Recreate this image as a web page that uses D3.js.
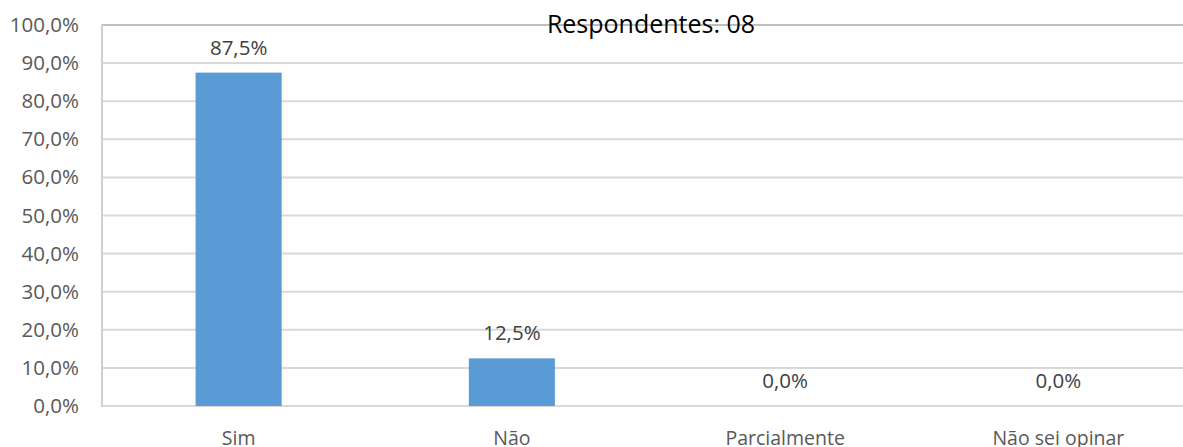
<head>
	<script src="https://d3js.org/d3.v7.min.js"></script>
	<style type="text/css">
		body { margin: 0; background: #fff; }
		text { font-family: "Open Sans", sans-serif; }
	</style>
</head>
<body>
	<script type="text/javascript">
		const categories = ['Sim', 'Não', 'Parcialmente', 'Não sei opinar']
		const values = [87.5, 12.5, 0, 0]
		const yTicks = [0, 10, 20, 30, 40, 50, 60, 70, 80, 90, 100]
		const title = 'Respondentes: 08'

		const W = 1183, H = 447
		const margin = {top:25, right:-12, bottom:41, left:102}
		const width = W - margin.left - margin.right,
			  height = H - margin.top - margin.bottom

		const fmt = v => v.toFixed(1).replace('.', ',') + '%'

		const svg = d3.select('body').append('svg')
				.attr('width', W)
				.attr('height', H)
		const g = svg.append('g')
				.attr('transform', 'translate('+margin.left+','+margin.top+')')

		const x = d3.scaleBand().domain(categories).range([0, width]).paddingInner(0.685).paddingOuter(0.3425)
		const y = d3.scaleLinear().domain([0, 100]).range([height, 0])

		// gridlines
		g.append('g').selectAll('line')
			.data(yTicks)
			.enter()
			.append('line')
				.attr('x1', 0).attr('x2', width)
				.attr('y1', d => y(d)).attr('y2', d => y(d))
				.style('stroke', d => d === 100 ? '#bfbfbf' : '#d9d9d9')
				.style('stroke-width', 2)

		// left border
		g.append('line')
			.attr('x1', 0).attr('x2', 0)
			.attr('y1', y(100) - 1).attr('y2', y(0) + 1)
			.style('stroke', '#d0d0d0')
			.style('stroke-width', 2)

		// y axis labels
		const yAxis = g.append('g')
			.call(d3.axisLeft(y).tickValues(yTicks).tickFormat(fmt).tickSize(0).tickPadding(23))
		yAxis.select('.domain').remove()
		yAxis.selectAll('text')
			.style('font-size', '20.5px')
			.style('fill', '#595959')

		// bars
		g.append('g').selectAll('rect')
			.data(values)
			.enter()
			.append('rect')
				.attr('x', (d,i) => x(categories[i]))
				.attr('width', x.bandwidth())
				.attr('y', d => y(d))
				.attr('height', d => y(0) - y(d))
				.style('fill', '#5b9bd5')

		// value labels
		g.append('g').selectAll('text')
			.data(values)
			.enter()
			.append('text')
				.attr('x', (d,i) => x(categories[i]) + x.bandwidth()/2)
				.attr('y', d => y(d) - 18)
				.attr('text-anchor', 'middle')
				.style('font-size', '20.5px')
				.style('fill', '#404040')
				.text(fmt)

		// x axis labels
		const xAxis = g.append('g')
			.attr('transform', 'translate(0,'+height+')')
			.call(d3.axisBottom(x).tickSize(0).tickPadding(25))
		xAxis.select('.domain').remove()
		xAxis.selectAll('text')
			.style('font-size', '19.5px')
			.style('fill', '#595959')

		svg.append('text')
			.attr('x', 651)
			.attr('y', 33)
			.attr('text-anchor', 'middle')
			.style('font-size', '25px')
			.style('fill', '#000')
			.text(title)
	</script>
</body>
